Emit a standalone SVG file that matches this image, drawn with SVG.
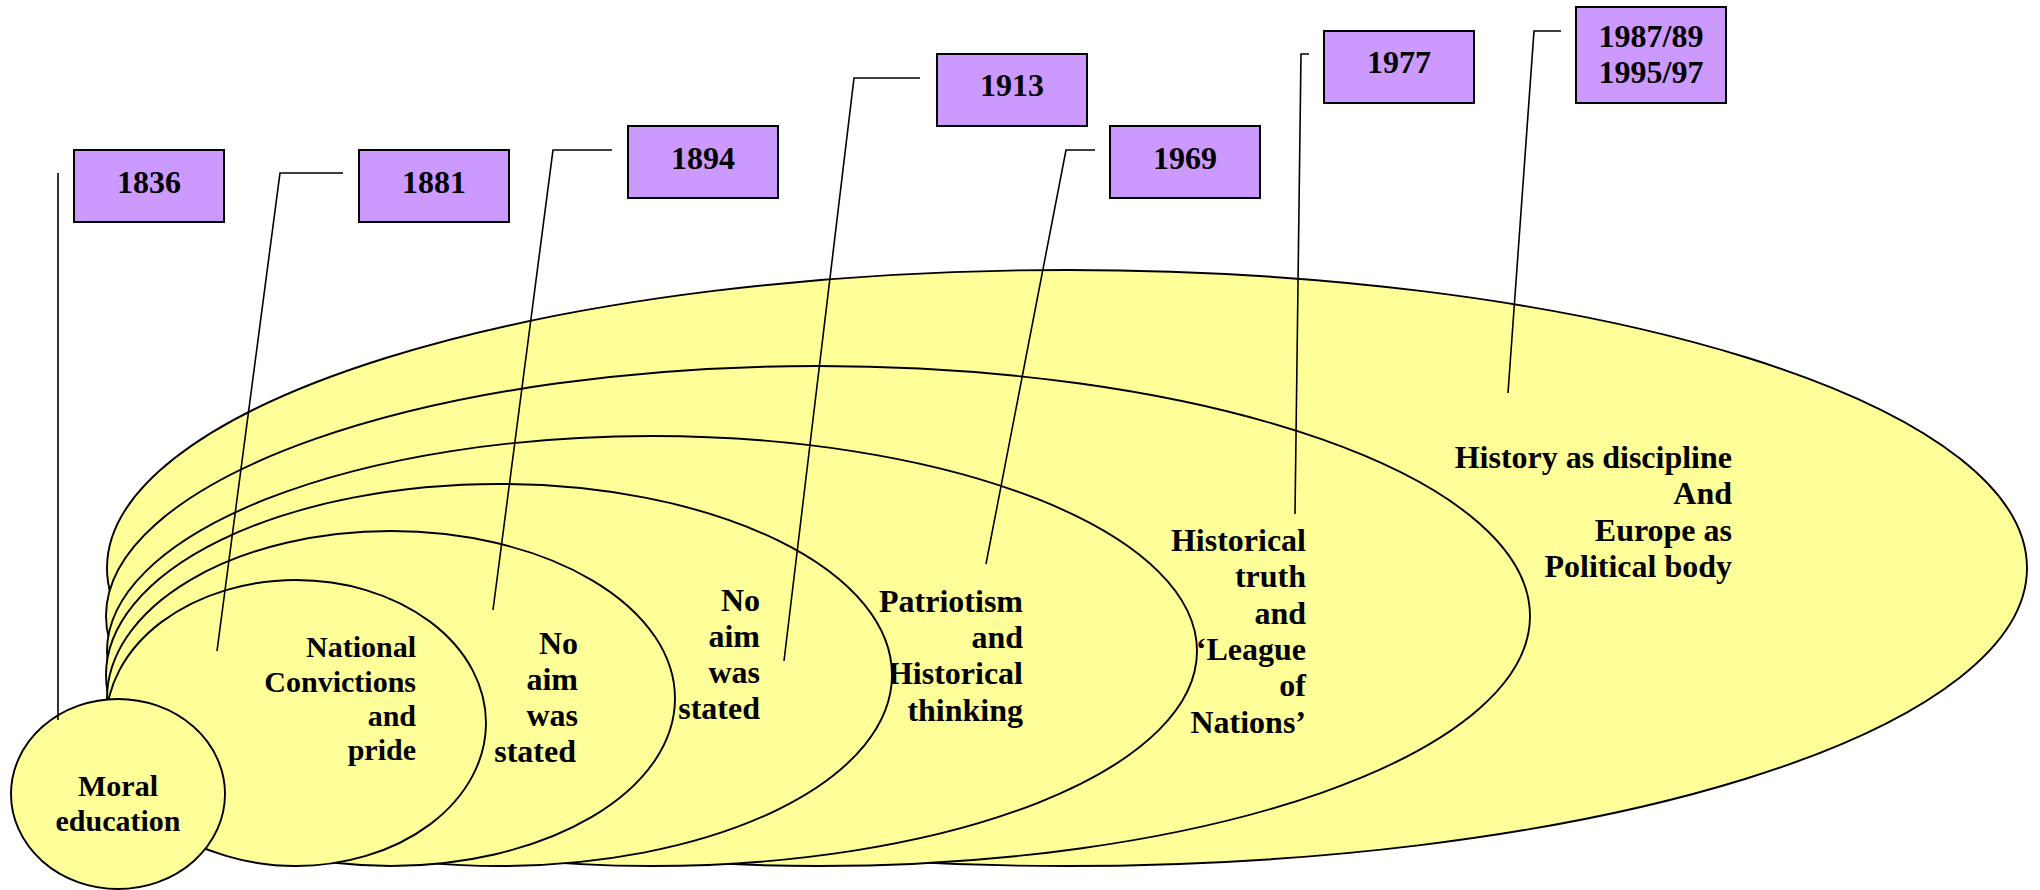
<svg xmlns="http://www.w3.org/2000/svg" width="2040" height="890" viewBox="0 0 2040 890">
<style>
.ell{fill:#FFFF99;stroke:#000;stroke-width:1.9}
.box{fill:#CC99FF;stroke:#000;stroke-width:2}
.lbl{font-family:"Liberation Serif","Times New Roman",serif;font-weight:bold;font-size:32px;fill:#000}
.sm{font-size:30px}
.end{text-anchor:end}
.mid{text-anchor:middle}
.con{fill:none;stroke:#000;stroke-width:1.6}
</style>
<rect width="2040" height="890" fill="#fff"/>
<g id="ellipse-1987">
<ellipse class="ell" cx="1067" cy="568" rx="960" ry="298"/>
<text class="lbl end" x="1732"><tspan x="1732" y="468">History as discipline</tspan><tspan x="1732" y="504">And</tspan><tspan x="1732" y="541">Europe as</tspan><tspan x="1732" y="577">Political body</tspan></text>
</g>
<g id="ellipse-1977">
<ellipse class="ell" cx="818" cy="616" rx="712" ry="250"/>
<text class="lbl end"><tspan x="1306" y="551">Historical</tspan><tspan x="1306" y="587">truth</tspan><tspan x="1306" y="624">and</tspan><tspan x="1306" y="660">‘League</tspan><tspan x="1306" y="696">of</tspan><tspan x="1306" y="733">Nations’</tspan></text>
</g>
<g id="ellipse-1969">
<ellipse class="ell" cx="652" cy="651" rx="545" ry="215"/>
<text class="lbl end"><tspan x="1023" y="612">Patriotism</tspan><tspan x="1023" y="648">and</tspan><tspan x="1023" y="684">Historical</tspan><tspan x="1023" y="721">thinking</tspan></text>
</g>
<g id="ellipse-1913">
<ellipse class="ell" cx="499" cy="675" rx="393" ry="191"/>
<text class="lbl end"><tspan x="760" y="611">No</tspan><tspan x="760" y="647">aim</tspan><tspan x="760" y="683">was</tspan><tspan x="760" y="719">stated</tspan></text>
</g>
<g id="ellipse-1894">
<ellipse class="ell" cx="391" cy="698.5" rx="284" ry="167.5"/>
<text class="lbl end"><tspan x="578" y="654">No</tspan><tspan x="578" y="690">aim</tspan><tspan x="578" y="726">was</tspan><tspan x="576" y="762">stated</tspan></text>
</g>
<g id="ellipse-1881">
<ellipse class="ell" cx="296" cy="723" rx="190" ry="143"/>
<text class="lbl sm end"><tspan x="416" y="657">National</tspan><tspan x="416" y="692">Convictions</tspan><tspan x="416" y="726">and</tspan><tspan x="416" y="760">pride</tspan></text>
</g>
<g id="ellipse-1836">
<ellipse class="ell" cx="118" cy="794" rx="107" ry="95"/>
<text class="lbl sm mid"><tspan x="118" y="796">Moral</tspan><tspan x="118" y="831">education</tspan></text>
</g>
<g id="connectors">
<polyline class="con" points="58,173 58,720"/>
<polyline class="con" points="343,173 280,173 217,651"/>
<polyline class="con" points="612,150 553,150 493,610"/>
<polyline class="con" points="920,78 854,78 784,661"/>
<polyline class="con" points="1095,150 1066,150 986,564"/>
<polyline class="con" points="1309,54 1301,54 1295,514"/>
<polyline class="con" points="1561,31 1534,31 1508,393"/>
</g>
<g id="box-1836"><rect class="box" x="74" y="150" width="150" height="72"/><text class="lbl mid" x="149" y="193">1836</text></g>
<g id="box-1881"><rect class="box" x="359" y="150" width="150" height="72"/><text class="lbl mid" x="434" y="193">1881</text></g>
<g id="box-1894"><rect class="box" x="628" y="126" width="150" height="72"/><text class="lbl mid" x="703" y="169">1894</text></g>
<g id="box-1913"><rect class="box" x="937" y="54" width="150" height="72"/><text class="lbl mid" x="1012" y="96">1913</text></g>
<g id="box-1969"><rect class="box" x="1110" y="126" width="150" height="72"/><text class="lbl mid" x="1185" y="169">1969</text></g>
<g id="box-1977"><rect class="box" x="1324" y="31" width="150" height="72"/><text class="lbl mid" x="1399" y="73">1977</text></g>
<g id="box-1987"><rect class="box" x="1576" y="7" width="150" height="96"/><text class="lbl mid"><tspan x="1651" y="47">1987/89</tspan><tspan x="1651" y="83">1995/97</tspan></text></g>
</svg>
